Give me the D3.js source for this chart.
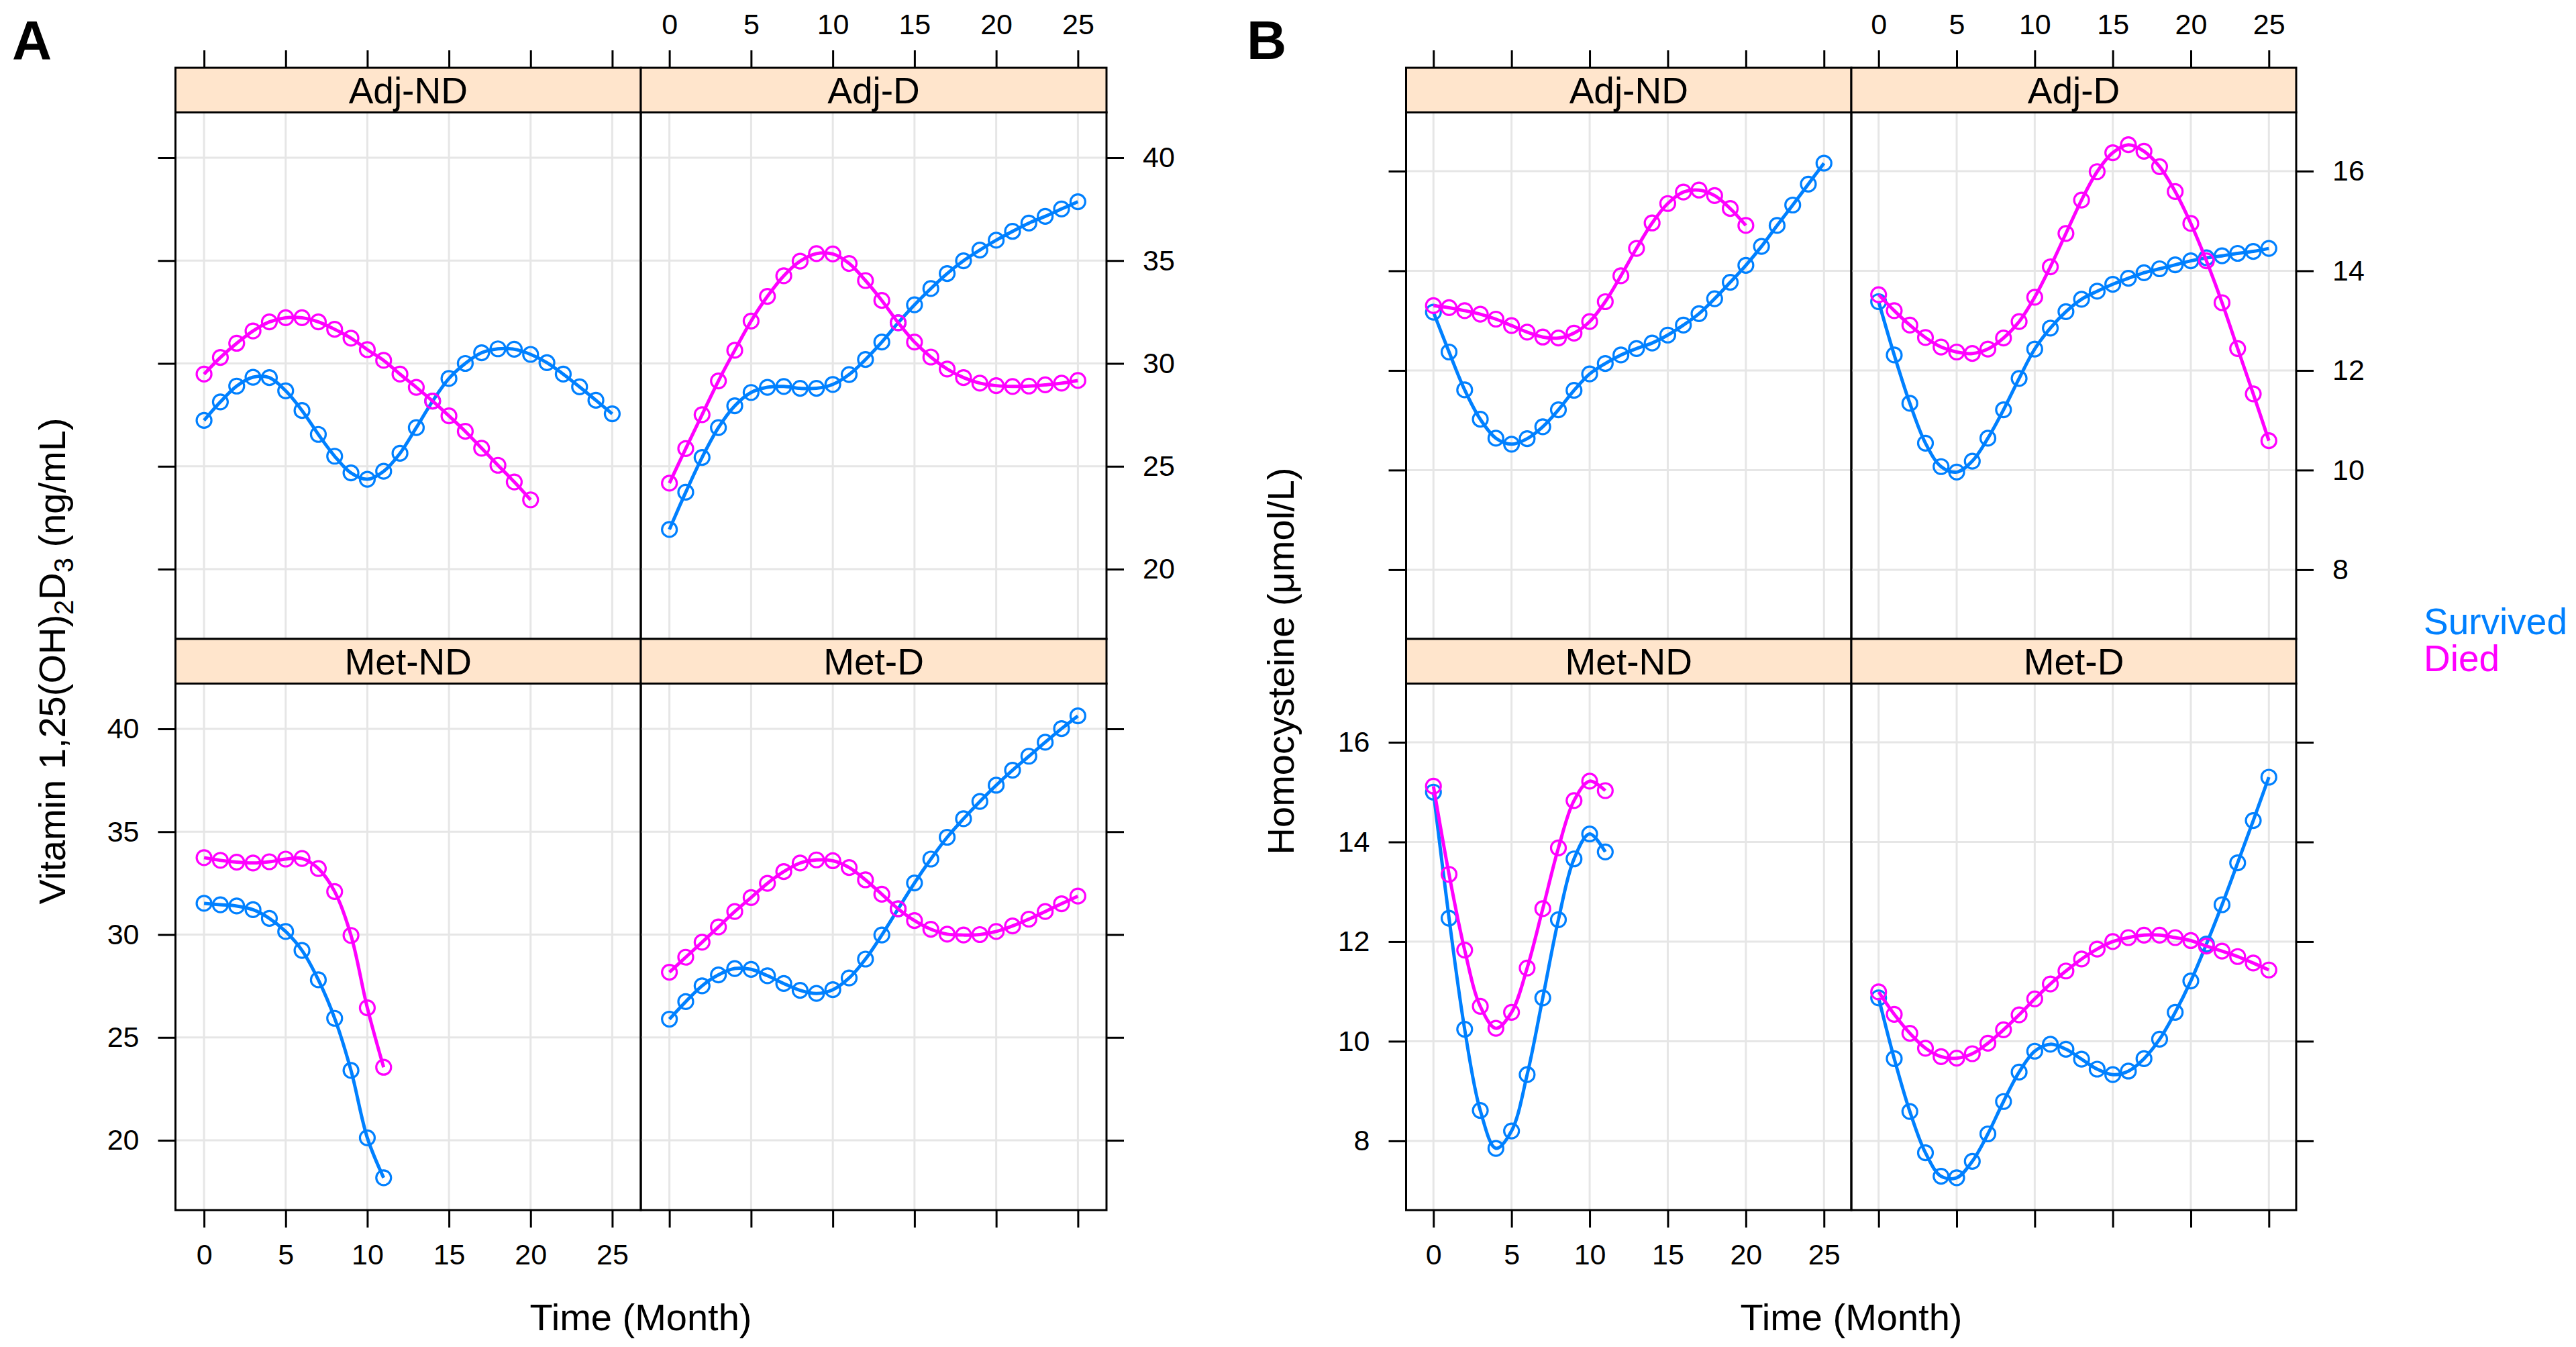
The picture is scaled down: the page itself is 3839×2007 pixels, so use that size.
<!DOCTYPE html>
<html>
<head>
<meta charset="utf-8">
<script src="https://cdn.jsdelivr.net/npm/d3@7"></script>
<style>
  html, body { margin: 0; padding: 0; background: #ffffff; }
  svg { display: block; font-family: "Liberation Sans", Arial, sans-serif; }
</style>
</head>
<body>
<svg id="chart" width="3839" height="2007"></svg>
<script>
// ---------------- DATA ----------------
const panels = ["Adj-ND", "Adj-D", "Met-ND", "Met-D"];
const seriesNames = ["Survived", "Died"];
const xTicks = [0, 5, 10, 15, 20, 25];
const vitTicks = [20, 25, 30, 35, 40];
const hcyTicks = [8, 10, 12, 14, 16];

// Vitamin 1,25(OH)2D3 (ng/mL), value at month index 0,1,2,...
const vitAdjND_Survived = [27.23,28.13,28.90,29.33,29.31,28.67,27.71,26.55,25.49,24.68,24.37,24.76,25.63,26.88,28.17,29.27,30.00,30.52,30.71,30.69,30.44,30.04,29.48,28.86,28.21,27.55];
const vitAdjND_Died     = [29.48,30.29,30.98,31.58,32.02,32.22,32.22,32.02,31.66,31.23,30.67,30.15,29.48,28.84,28.17,27.45,26.70,25.88,25.05,24.24,23.37];
const vitAdjD_Survived  = [21.93,23.74,25.43,26.88,27.94,28.59,28.84,28.88,28.79,28.79,28.98,29.46,30.19,31.04,31.98,32.85,33.64,34.37,34.99,35.51,35.99,36.42,36.82,37.15,37.51,37.86];
const vitAdjD_Died      = [24.18,25.86,27.51,29.15,30.64,32.06,33.26,34.26,34.97,35.34,35.32,34.86,34.03,33.06,31.98,31.04,30.31,29.73,29.31,29.04,28.92,28.88,28.90,28.96,29.04,29.17];
const vitMetND_Survived = [31.52,31.45,31.39,31.21,30.79,30.15,29.23,27.80,25.93,23.40,20.12,18.18];
const vitMetND_Died     = [33.74,33.61,33.52,33.48,33.54,33.67,33.70,33.21,32.09,29.96,26.44,23.55];
const vitMetD_Survived  = [25.89,26.74,27.51,28.04,28.35,28.31,28.00,27.62,27.29,27.14,27.32,27.89,28.81,29.98,31.25,32.51,33.67,34.73,35.63,36.47,37.26,37.99,38.67,39.35,40.01,40.63];
const vitMetD_Died      = [28.17,28.90,29.63,30.37,31.12,31.80,32.49,33.06,33.48,33.63,33.59,33.26,32.66,31.96,31.25,30.68,30.26,30.02,29.98,30.00,30.15,30.42,30.75,31.12,31.50,31.87];

// Homocysteine (umol/L)
const hcyAdjND_Survived = [13.17,12.37,11.61,11.02,10.64,10.52,10.63,10.87,11.21,11.60,11.93,12.14,12.31,12.44,12.55,12.71,12.91,13.14,13.44,13.77,14.11,14.49,14.91,15.32,15.74,16.16];
const hcyAdjND_Died     = [13.30,13.26,13.20,13.13,13.03,12.90,12.77,12.67,12.65,12.75,12.98,13.38,13.90,14.45,14.96,15.35,15.58,15.62,15.51,15.25,14.91];
const hcyAdjD_Survived  = [13.38,12.31,11.34,10.54,10.07,9.96,10.18,10.64,11.21,11.84,12.43,12.85,13.18,13.43,13.59,13.73,13.85,13.96,14.04,14.12,14.20,14.26,14.30,14.35,14.39,14.45];
const hcyAdjD_Died      = [13.52,13.20,12.91,12.66,12.47,12.37,12.34,12.43,12.65,12.98,13.47,14.08,14.75,15.42,15.99,16.37,16.53,16.40,16.09,15.59,14.95,14.20,13.36,12.44,11.53,10.59];
const hcyMetND_Survived = [15.00,12.47,10.24,8.61,7.85,8.20,9.33,10.87,12.44,13.66,14.16,13.80];
const hcyMetND_Died     = [15.12,13.35,11.83,10.70,10.26,10.58,11.47,12.66,13.88,14.83,15.22,15.03];
const hcyMetD_Survived  = [10.87,9.65,8.59,7.76,7.29,7.26,7.59,8.14,8.79,9.38,9.80,9.94,9.84,9.64,9.44,9.33,9.40,9.65,10.04,10.58,11.21,11.95,12.74,13.58,14.43,15.30];
const hcyMetD_Died      = [10.99,10.54,10.16,9.86,9.69,9.66,9.75,9.96,10.23,10.53,10.85,11.15,11.41,11.65,11.85,12.00,12.08,12.13,12.13,12.08,12.02,11.91,11.81,11.70,11.57,11.43];

// ---------------- STYLE / LAYOUT ----------------
const colors = { Survived: "#0080ff", Died: "#ff00ff" };
const FONT = 55, TITLEFONT = 56, TICKFONT = 43;
const stripH = 66.5, top0 = 101;
const rowPlotTop = [top0 + stripH, top0 + stripH + 784.5 + stripH];
const rowPlotH = 784.5;
const tickLen = 26;

const svg = d3.select("#chart");
svg.append("rect").attr("width", 3839).attr("height", 2007).attr("fill", "#fff");

function drawFigure(opt) {
  const g = svg.append("g");
  const cols = [[opt.x0, opt.mid], [opt.mid, opt.x1]];
  // shared scales (lattice: 7% padding)
  const allY = [].concat(...opt.data.map(p => [].concat(p.Survived, p.Died)));
  const ext = d3.extent(allY);
  const padY = 0.07 * (ext[1] - ext[0]);
  const xDom = [0 - 0.07 * 25, 25 + 0.07 * 25];

  const line = d3.line().curve(d3.curveCatmullRom.alpha(0.5));

  opt.data.forEach((pd, i) => {
    const r = Math.floor(i / 2), c = i % 2;
    const [L, R] = cols[c];
    const T = rowPlotTop[r], B = T + rowPlotH;
    const x = d3.scaleLinear().domain(xDom).range([L, R]);
    const y = d3.scaleLinear().domain([ext[0] - padY, ext[1] + padY]).range([B, T]);
    const pg = g.append("g");
    // grid
    pg.selectAll(".gx").data(xTicks).enter().append("line")
      .attr("x1", d => x(d)).attr("x2", d => x(d)).attr("y1", T).attr("y2", B)
      .attr("stroke", "#e6e6e6").attr("stroke-width", 3);
    pg.selectAll(".gy").data(opt.yTicks).enter().append("line")
      .attr("x1", L).attr("x2", R).attr("y1", d => y(d)).attr("y2", d => y(d))
      .attr("stroke", "#e6e6e6").attr("stroke-width", 3);
    // series
    seriesNames.forEach(s => {
      const vals = pd[s];
      const pts = vals.map((v, k) => [x(k), y(v)]);
      pg.append("path").attr("d", line(pts)).attr("fill", "none")
        .attr("stroke", colors[s]).attr("stroke-width", 5);
      pg.selectAll(".pt" + s).data(vals).enter().append("circle")
        .attr("cx", (v, k) => x(k)).attr("cy", v => y(v)).attr("r", 11)
        .attr("fill", "none").attr("stroke", colors[s]).attr("stroke-width", 3.2);
    });
    // border
    pg.append("rect").attr("x", L).attr("y", T).attr("width", R - L).attr("height", B - T)
      .attr("fill", "none").attr("stroke", "#000").attr("stroke-width", 3);
    // strip
    pg.append("rect").attr("x", L).attr("y", T - stripH).attr("width", R - L).attr("height", stripH)
      .attr("fill", "#ffe5cc").attr("stroke", "#000").attr("stroke-width", 3);
    pg.append("text").attr("x", (L + R) / 2).attr("y", T - stripH / 2 + 20)
      .attr("text-anchor", "middle").attr("font-size", FONT).text(panels[i]);

    // axes (alternating)
    if (r === 0) { // top
      const ax = g.append("g").attr("transform", `translate(0,${top0})`)
        .call(d3.axisTop(x).tickValues(xTicks).tickSize(tickLen).tickPadding(24)
          .tickFormat(c === 1 ? d3.format("d") : () => ""));
      styleAxis(ax);
    } else { // bottom
      const ax = g.append("g").attr("transform", `translate(0,${B})`)
        .call(d3.axisBottom(x).tickValues(xTicks).tickSize(tickLen).tickPadding(24)
          .tickFormat(c === 0 ? d3.format("d") : () => ""));
      styleAxis(ax);
    }
    if (c === 0) { // left
      const ax = g.append("g").attr("transform", `translate(${L},0)`)
        .call(d3.axisLeft(y).tickValues(opt.yTicks).tickSize(tickLen).tickPadding(28)
          .tickFormat(r === 1 ? d3.format("d") : () => ""));
      styleAxis(ax);
    } else { // right
      const ax = g.append("g").attr("transform", `translate(${R},0)`)
        .call(d3.axisRight(y).tickValues(opt.yTicks).tickSize(tickLen).tickPadding(28)
          .tickFormat(r === 0 ? d3.format("d") : () => ""));
      styleAxis(ax);
    }
  });

  // axis titles
  g.append("text").attr("x", opt.mid).attr("y", 1982).attr("text-anchor", "middle")
    .attr("font-size", TITLEFONT).text("Time (Month)");
  const yt = g.append("text").attr("transform", `translate(${opt.yTitleX},985) rotate(-90)`)
    .attr("text-anchor", "middle").attr("font-size", TITLEFONT);
  opt.yTitle(yt);
  // panel letter
  g.append("text").attr("x", opt.letterX).attr("y", 88).attr("font-size", 82)
    .attr("font-weight", "bold").text(opt.letter);
}

function styleAxis(ax) {
  ax.select(".domain").remove();
  ax.selectAll(".tick line").attr("stroke", "#000").attr("stroke-width", 3);
  ax.selectAll(".tick text").attr("fill", "#000").attr("font-size", TICKFONT)
    .attr("font-family", "'Liberation Sans', Arial, sans-serif");
}

drawFigure({
  letter: "A", letterX: 18,
  x0: 261.5, mid: 955, x1: 1649,
  yTicks: vitTicks, yTitleX: 97,
  data: [
    { Survived: vitAdjND_Survived, Died: vitAdjND_Died },
    { Survived: vitAdjD_Survived,  Died: vitAdjD_Died },
    { Survived: vitMetND_Survived, Died: vitMetND_Died },
    { Survived: vitMetD_Survived,  Died: vitMetD_Died }
  ],
  yTitle: t => {
    t.append("tspan").text("Vitamin 1,25(OH)");
    t.append("tspan").attr("font-size", 40).attr("dy", 12).text("2");
    t.append("tspan").attr("dy", -12).text("D");
    t.append("tspan").attr("font-size", 40).attr("dy", 12).text("3");
    t.append("tspan").attr("dy", -12).text(" (ng/mL)");
  }
});

drawFigure({
  letter: "B", letterX: 1858,
  x0: 2095.5, mid: 2759, x1: 3422,
  yTicks: hcyTicks, yTitleX: 1928,
  data: [
    { Survived: hcyAdjND_Survived, Died: hcyAdjND_Died },
    { Survived: hcyAdjD_Survived,  Died: hcyAdjD_Died },
    { Survived: hcyMetND_Survived, Died: hcyMetND_Died },
    { Survived: hcyMetD_Survived,  Died: hcyMetD_Died }
  ],
  yTitle: t => t.text("Homocysteine (\u03bcmol/L)")
});

// legend
seriesNames.forEach((s, i) => {
  svg.append("text").attr("x", 3612).attr("y", 945 + i * 55).attr("font-size", FONT)
    .attr("fill", colors[s]).text(s);
});
</script>
</body>
</html>
